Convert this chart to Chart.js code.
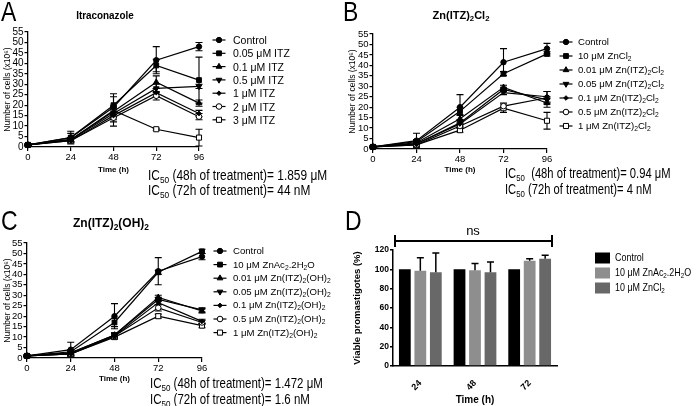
<!DOCTYPE html>
<html><head><meta charset="utf-8">
<script src="https://cdn.jsdelivr.net/npm/chart.js@4.4.1/dist/chart.umd.min.js"></script>
<style>
html,body{margin:0;padding:0;background:#fff;}
#wrap{position:relative;width:696px;height:406px;overflow:hidden;font-family:"Liberation Sans",Arial,"DejaVu Sans",sans-serif;color:#000;}
canvas{position:absolute;left:0;top:0;}
.t{position:absolute;white-space:nowrap;line-height:1;}
.c{transform-origin:0 50%;}
sub{font-size:0.7em;vertical-align:-0.3em;line-height:0;}
</style></head><body>
<div id="wrap">
<canvas id="cA" width="696" height="406"></canvas>
<canvas id="cB" width="696" height="406"></canvas>
<canvas id="cC" width="696" height="406"></canvas>
<canvas id="cD" width="696" height="406"></canvas>

<div class="t" style="left:1px;top:12px;font-size:28px;transform:translateY(-50%) scaleX(0.82);transform-origin:0 50%;">A</div>
<div class="t" style="left:343px;top:12px;font-size:28px;transform:translateY(-50%) scaleX(0.82);transform-origin:0 50%;">B</div>
<div class="t" style="left:1px;top:221px;font-size:28px;transform:translateY(-50%) scaleX(0.82);transform-origin:0 50%;">C</div>
<div class="t" style="left:345px;top:221px;font-size:28px;transform:translateY(-50%) scaleX(0.82);transform-origin:0 50%;">D</div>

<div class="t" style="left:105px;top:16px;font-size:11.5px;font-weight:bold;transform:translate(-50%,-50%) scaleX(0.86);">Itraconazole</div>
<div class="t" style="left:461px;top:15px;font-size:11px;font-weight:bold;transform:translate(-50%,-50%);">Zn(ITZ)<sub>2</sub>Cl<sub>2</sub></div>
<div class="t" style="left:111px;top:223px;font-size:12px;font-weight:bold;transform:translate(-50%,-50%);">Zn(ITZ)<sub>2</sub>(OH)<sub>2</sub></div>

<div class="t c" style="left:148px;top:175px;font-size:14px;transform:translateY(-50%) scaleX(0.85);">IC<sub>50</sub> (48h of treatment)= 1.859 μM</div>
<div class="t c" style="left:148px;top:190px;font-size:14px;transform:translateY(-50%) scaleX(0.85);">IC<sub>50</sub> (72h of treatment)= 44 nM</div>
<div class="t c" style="left:505px;top:173px;font-size:14px;transform:translateY(-50%) scaleX(0.8);">IC<sub>50</sub>&nbsp; (48h of treatment)= 0.94 μM</div>
<div class="t c" style="left:505px;top:189px;font-size:14px;transform:translateY(-50%) scaleX(0.8);">IC<sub>50</sub> (72h of treatment)= 4 nM</div>
<div class="t c" style="left:150px;top:383px;font-size:14px;transform:translateY(-50%) scaleX(0.82);">IC<sub>50</sub> (48h of treatment)= 1.472 μM</div>
<div class="t c" style="left:150px;top:399px;font-size:14px;transform:translateY(-50%) scaleX(0.82);">IC<sub>50</sub> (72h of treatment)= 1.6 nM</div>

<div class="t" style="left:473px;top:230px;font-size:13px;transform:translate(-50%,-50%);">ns</div>
<div id="legends"></div>
</div>
<script>
// ---------- DATA ----------
const timePoints = [0, 24, 48, 72, 96];

// Panel A: Itraconazole
const aLabels = ['Control', '0.05 μM ITZ', '0.1 μM ITZ', '0.5 μM ITZ', '1 μM ITZ', '2 μM ITZ', '3 μM ITZ'];
const aControl = [1, 4.5, 19, 41.5, 48];
const aITZ005  = [1, 4.5, 20, 39, 32];
const aITZ01   = [1, 3.5, 17, 31, 21];
const aITZ05   = [1, 3.5, 16, 28, 29];
const aITZ1    = [1, 3, 15, 26, 16];
const aITZ2    = [1, 3, 14, 24.5, 14.5];
const aITZ3    = [1, 3.5, 17.5, 8.5, 4.5];
const aControlErr = [0.5, 3, 5, 6.5, 2];
const aITZ005Err  = [0.5, 2, 5.5, 3, 11];
const aITZ01Err   = [0.3, 1, 3, 3, 1.5];
const aITZ05Err   = [0.3, 1, 3, 2, 1];
const aITZ1Err    = [0.3, 1, 3, 2, 1.5];
const aITZ2Err    = [0.3, 1, 4, 2, 1.5];
const aITZ3Err    = [0.3, 1, 2, 0.5, 4];

// Panel B: Zn(ITZ)2Cl2
const bLabels = ['Control', '10 μM ZnCl_2', '0.01 μM Zn(ITZ)_2Cl_2', '0.05 μM Zn(ITZ)_2Cl_2', '0.1 μM Zn(ITZ)_2Cl_2', '0.5 μM Zn(ITZ)_2Cl_2', '1 μM Zn(ITZ)_2Cl_2'];
const bControl = [1, 4, 20, 41.5, 48];
const bZnCl2   = [1, 3.5, 18, 36, 45.5];
const bZn001   = [1, 3, 14.5, 29.5, 22];
const bZn005   = [1, 2.5, 12.5, 28.5, 23.5];
const bZn01    = [1, 2.5, 12, 27, 25];
const bZn05    = [1, 2, 11, 20.5, 24.5];
const bZn1     = [1, 2, 9, 19.5, 13.5];
const bControlErr = [0.5, 3.5, 6, 6.5, 2.5];
const bZnCl2Err   = [0.3, 1, 2, 1, 1];
const bZn001Err   = [0.3, 1, 2, 1, 2];
const bZn005Err   = [0.3, 1, 1.5, 1, 1.5];
const bZn01Err    = [0.3, 1, 1.5, 1, 2.5];
const bZn05Err    = [0.3, 1, 1, 1.5, 3];
const bZn1Err     = [0.3, 1, 1, 2, 4];

// Panel C: Zn(ITZ)2(OH)2
const cLabels = ['Control', '10 μM ZnAc_2.2H_2O', '0.01 μM Zn(ITZ)_2(OH)_2', '0.05 μM Zn(ITZ)_2(OH)_2', '0.1 μM Zn(ITZ)_2(OH)_2', '0.5 μM Zn(ITZ)_2(OH)_2', '1 μM Zn(ITZ)_2(OH)_2'];
const cControl = [1, 4, 20, 41.5, 48.5];
const cZnAc    = [1, 3, 17, 41, 51];
const cZn001   = [1, 2.5, 11, 29, 22.5];
const cZn005   = [1, 2.5, 11, 28, 23];
const cZn01    = [1, 2, 10.5, 26.5, 17.5];
const cZn05    = [1, 2, 10.5, 24, 17];
const cZn1     = [1, 2, 10, 20, 15.5];
const cControlErr = [0.5, 3.5, 6, 6.5, 1.5];
const cZnAcErr    = [0.3, 1, 2, 1, 1];
const cZn001Err   = [0.3, 1, 1, 1, 1];
const cZn005Err   = [0.3, 1, 1, 1, 1];
const cZn01Err    = [0.3, 1, 1, 1, 1];
const cZn05Err    = [0.3, 1, 1, 1.5, 1];
const cZn1Err     = [0.3, 1, 1, 1, 1];

// Panel D: viability
const dTimeLabels = ['24', '48', '72'];
const dLabels = ['Control', '10 μM ZnAc_2.2H_2O', '10 μM ZnCl_2'];
const dControl = [100, 100, 100];
const dZnAc    = [98.5, 99, 109];
const dZnCl2   = [97, 97, 111];
const dControlErr = [0, 0, 0];
const dZnAcErr    = [13.5, 7, 2];
const dZnCl2Err   = [20, 10.5, 3.5];

// ---------- STYLE / HELPERS ----------
const FONT = '"Liberation Sans", Arial, "DejaVu Sans", sans-serif';
Chart.defaults.color = '#000';
Chart.defaults.font.family = FONT;
function subHTML(s){ return s.replace(/_(\d+)/g, '<sub>$1</sub>'); }
function plain(s){ return s.replace(/_(\d+)/g, '$1'); }

const markerStyles = [
  {pointStyle:'circle', radius:2.7, fill:'#000'},
  {pointStyle:'rect', radius:3.4, fill:'#000'},
  {pointStyle:'triangle', radius:3.3, fill:'#000'},
  {pointStyle:'triangle', rotation:180, radius:3.3, fill:'#000'},
  {pointStyle:'rectRot', radius:2.3, fill:'#000'},
  {pointStyle:'circle', radius:2.8, fill:'#fff'},
  {pointStyle:'rect', radius:3.6, fill:'#fff'}
];

function drawMarker(ctx, st, x, y){
  if (Chart.helpers && Chart.helpers.drawPoint) {
    Chart.helpers.drawPoint(ctx, {pointStyle: st.pointStyle, rotation: st.rotation || 0, radius: st.radius, borderWidth: 1}, x, y);
  } else {
    ctx.beginPath(); ctx.arc(x, y, st.radius, 0, Math.PI*2); ctx.fill(); ctx.stroke();
  }
}

function drawErr(chart, o){
  const ctx = chart.ctx, ys = chart.scales.y;
  ctx.save(); ctx.strokeStyle = '#000'; ctx.lineWidth = o.lw || 1.2;
  chart.data.datasets.forEach((ds, i) => {
    if (!ds.errors) return;
    const meta = chart.getDatasetMeta(i);
    meta.data.forEach((el, j) => {
      const e = ds.errors[j]; if (!e) return;
      const raw = ds.data[j]; const v = (typeof raw === 'object') ? raw.y : raw;
      const top = ys.getPixelForValue(v + e);
      const bot = o.upOnly ? ys.getPixelForValue(v) : ys.getPixelForValue(Math.max(0, v - e));
      ctx.beginPath();
      ctx.moveTo(el.x, bot); ctx.lineTo(el.x, top);
      ctx.moveTo(el.x - o.cap, top); ctx.lineTo(el.x + o.cap, top);
      if (!o.upOnly) { ctx.moveTo(el.x - o.cap, bot); ctx.lineTo(el.x + o.cap, bot); }
      ctx.stroke();
    });
  });
  ctx.restore();
}
const errorBars = {
  id: 'errorBars',
  beforeDatasetsDraw(chart, args, o){ if (o.phase === 'before') drawErr(chart, o); },
  afterDatasetsDraw(chart, args, o){ if (o.phase === 'after') drawErr(chart, o); }
};

const lineLegend = {
  id: 'lineLegend',
  afterDraw(chart, args, o){
    const ctx = chart.ctx;
    chart.data.datasets.forEach((ds, i) => {
      const y = o.y0 + i * o.dy;
      ctx.save();
      ctx.strokeStyle = '#000'; ctx.lineWidth = 1.2;
      ctx.beginPath(); ctx.moveTo(o.x - o.half, y); ctx.lineTo(o.x + o.half, y); ctx.stroke();
      ctx.fillStyle = markerStyles[i].fill; ctx.lineWidth = 1;
      drawMarker(ctx, markerStyles[i], o.x, y);
      ctx.restore();
    });
  }
};

const legendsDiv = document.getElementById('legends');
function addLegendText(labels, x, y0, dy, size, sx){
  labels.forEach((lab, i) => {
    const d = document.createElement('div');
    d.className = 't';
    d.style.left = x + 'px';
    d.style.top = (y0 + i * dy) + 'px';
    d.style.fontSize = size + 'px';
    d.style.transformOrigin = '0 50%';
    d.style.transform = 'translateY(-50%) scaleX(' + (sx || 1) + ')';
    d.innerHTML = subHTML(lab);
    legendsDiv.appendChild(d);
  });
}

function buildLine(id, cfg){
  const box = cfg.box, xH = 30;
  const datasets = cfg.series.map((vals, i) => {
    const st = markerStyles[i];
    return {
      label: plain(cfg.labels[i]),
      data: timePoints.map((t, j) => ({x: t, y: vals[j]})),
      errors: cfg.errs[i],
      borderColor: '#000', borderWidth: 1.2, tension: 0, fill: false,
      pointStyle: st.pointStyle, pointRotation: st.rotation || 0, pointRadius: st.radius,
      pointBackgroundColor: st.fill, pointBorderColor: '#000', pointBorderWidth: 1,
      clip: false
    };
  });
  new Chart(document.getElementById(id), {
    type: 'line',
    data: { datasets },
    options: {
      responsive: false, animation: false, devicePixelRatio: 1,
      layout: { padding: { left: box.pl, right: 696 - box.r, top: box.t, bottom: 406 - box.b - xH } },
      plugins: {
        legend: { display: false }, tooltip: { enabled: false },
        errorBars: { phase: 'before', cap: 3.5, lw: 1.1 },
        lineLegend: cfg.legend
      },
      scales: {
        x: {
          type: 'linear', min: 0, max: 96,
          afterFit: s => { s.height = xH; },
          ticks: { stepSize: 24, autoSkip: false, padding: 1, maxRotation: 0, font: { size: cfg.xTick } },
          grid: { drawOnChartArea: false, tickLength: 4, color: '#000', lineWidth: 1.2 },
          border: { color: '#000', width: 1.3 },
          title: { display: true, text: 'Time (h)', font: { size: 8, weight: 'bold' }, padding: { top: 0, bottom: cfg.xTitlePad } }
        },
        y: {
          min: 0, max: 55,
          afterFit: s => { s.width = box.l - box.pl; },
          ticks: { stepSize: 5, autoSkip: false, padding: 1, font: { size: cfg.yTick } },
          grid: { drawOnChartArea: false, tickLength: 3.5, color: '#000', lineWidth: 1.2 },
          border: { color: '#000', width: 1.3 },
          title: { display: true, text: 'Number of cells (x10⁶)', font: { size: 8.5 }, padding: { top: cfg.yTitlePad, bottom: 0 } }
        }
      }
    },
    plugins: [errorBars, lineLegend]
  });
  addLegendText(cfg.labels, cfg.legend.tx, cfg.legend.y0, cfg.legend.dy, cfg.legend.size, 1);
}

buildLine('cA', {
  box: { l: 28, r: 199, t: 32, b: 147, pl: 0 },
  labels: aLabels,
  series: [aControl, aITZ005, aITZ01, aITZ05, aITZ1, aITZ2, aITZ3],
  errs: [aControlErr, aITZ005Err, aITZ01Err, aITZ05Err, aITZ1Err, aITZ2Err, aITZ3Err],
  legend: { x: 219, half: 6.5, y0: 40, dy: 13.3, tx: 233, size: 10.5 },
  xTick: 9.5, yTick: 10, xTitlePad: 2.2, yTitlePad: 2.4
});
buildLine('cB', {
  box: { l: 373, r: 547, t: 34, b: 149, pl: 345 },
  labels: bLabels,
  series: [bControl, bZnCl2, bZn001, bZn005, bZn01, bZn05, bZn1],
  errs: [bControlErr, bZnCl2Err, bZn001Err, bZn005Err, bZn01Err, bZn05Err, bZn1Err],
  legend: { x: 566, half: 6.5, y0: 42, dy: 14, tx: 578, size: 9.6 },
  xTick: 9.5, yTick: 9.5, xTitlePad: 4.2, yTitlePad: 2.4
});
buildLine('cC', {
  box: { l: 27, r: 202, t: 243, b: 358, pl: 0 },
  labels: cLabels,
  series: [cControl, cZnAc, cZn001, cZn005, cZn01, cZn05, cZn1],
  errs: [cControlErr, cZnAcErr, cZn001Err, cZn005Err, cZn01Err, cZn05Err, cZn1Err],
  legend: { x: 220, half: 6.5, y0: 251, dy: 13.6, tx: 233, size: 9.6 },
  xTick: 9.5, yTick: 9.5, xTitlePad: 4.9, yTitlePad: 2.4
});

// ---------- Panel D ----------
const dColors = ['#000000', '#8e8e8e', '#686868'];
const dExtras = {
  id: 'dExtras',
  afterDraw(chart, args, o){
    const ctx = chart.ctx, a = chart.chartArea;
    ctx.save();
    // ns bracket
    ctx.strokeStyle = '#000'; ctx.lineWidth = 2;
    const y = a.top - 9, x1 = a.left + 2, x2 = a.right - 5;
    ctx.beginPath();
    ctx.moveTo(x1, y); ctx.lineTo(x2, y);
    ctx.moveTo(x1, y - 6); ctx.lineTo(x1, y + 6);
    ctx.moveTo(x2, y - 6); ctx.lineTo(x2, y + 6);
    ctx.stroke();
    // legend swatches
    chart.data.datasets.forEach((ds, i) => {
      ctx.fillStyle = ds.backgroundColor;
      ctx.fillRect(o.x, o.y0 + i * o.dy - 5.5, 15, 11);
    });
    ctx.restore();
  }
};
new Chart(document.getElementById('cD'), {
  type: 'bar',
  data: {
    labels: dTimeLabels,
    datasets: [
      { label: plain(dLabels[0]), data: dControl, errors: dControlErr, backgroundColor: dColors[0] },
      { label: plain(dLabels[1]), data: dZnAc, errors: dZnAcErr, backgroundColor: dColors[1] },
      { label: plain(dLabels[2]), data: dZnCl2, errors: dZnCl2Err, backgroundColor: dColors[2] }
    ]
  },
  options: {
    responsive: false, animation: false, devicePixelRatio: 1,
    categoryPercentage: 0.85, barPercentage: 0.76,
    layout: { padding: { left: 350, right: 696 - 557, top: 250, bottom: 0 } },
    plugins: {
      legend: { display: false }, tooltip: { enabled: false },
      errorBars: { phase: 'after', upOnly: true, cap: 3.5, lw: 1.5 },
      dExtras: { x: 595, y0: 258, dy: 15 }
    },
    scales: {
      x: {
        offset: true,
        afterFit: s => { s.height = 40; },
        ticks: { minRotation: 45, maxRotation: 45, padding: 4, font: { size: 9, weight: 'bold' } },
        grid: { display: false },
        border: { color: '#000', width: 1.5 },
        title: { display: true, text: 'Time (h)', font: { size: 10, weight: 'bold' }, padding: { top: 0, bottom: 0 } }
      },
      y: {
        min: 0, max: 120,
        afterFit: s => { s.width = 43; },
        ticks: { stepSize: 20, padding: 1, font: { size: 8.5, weight: 'bold' } },
        grid: { drawOnChartArea: false, tickLength: 3, color: '#000', lineWidth: 1.5 },
        border: { color: '#000', width: 1.5 },
        title: { display: true, text: 'Viable promastigotes (%)', font: { size: 9.5, weight: 'bold' }, padding: { top: 1.3, bottom: 0 } }
      }
    }
  },
  plugins: [errorBars, dExtras]
});
addLegendText(dLabels, 615, 258, 15, 10.4, 0.86);
</script>
</body></html>
